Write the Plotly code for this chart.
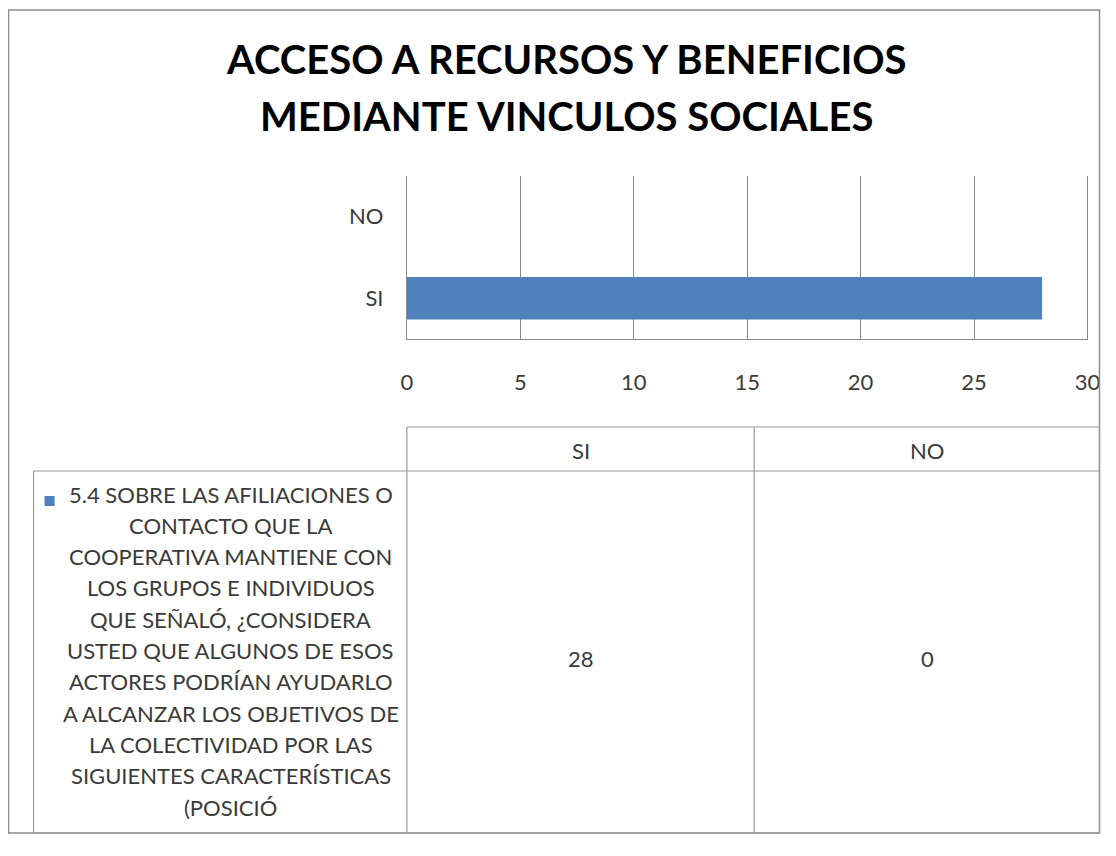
import plotly.graph_objects as go

# page layout: 8px body margin; the capture comes out slightly narrower
# horizontally, so x positions are corrected with a small calibration
PAD = 8
W, H = 1108, 830
SX, OX = 0.982, 6.6

# data
categories = ["SI", "NO"]
values = [28, 0]
title_lines = ["ACCESO A RECURSOS Y BENEFICIOS", "MEDIANTE VINCULOS SOCIALES"]
series_lines = [
    "5.4 SOBRE LAS AFILIACIONES O",
    "CONTACTO QUE LA",
    "COOPERATIVA MANTIENE CON",
    "LOS GRUPOS E INDIVIDUOS",
    "QUE SEÑALÓ, ¿CONSIDERA",
    "USTED QUE ALGUNOS DE ESOS",
    "ACTORES PODRÍAN AYUDARLO",
    "A ALCANZAR LOS OBJETIVOS DE",
    "LA COLECTIVIDAD POR LAS",
    "SIGUIENTES CARACTERÍSTICAS",
    "(POSICIÓ",
]
x_ticks = [0, 5, 10, 15, 20, 25, 30]

BAR = "#4f81bd"
GRID = "#8c8c8c"
LINE = "#9a9a9a"
TXT = "#3a3a3a"
FONT = "Lato"


# screen pixel -> paper coords
def px(x):
    return ((x - OX) / SX - PAD) / W


def py(y):
    return 1 - (y - PAD) / H


fig = go.Figure()
fig.add_trace(go.Bar(
    y=categories, x=values, orientation="h",
    marker=dict(color=BAR, line=dict(width=0)),
    name=" ".join(series_lines), showlegend=False,
))

fig.update_layout(
    width=W, height=H, autosize=False,
    margin=dict(l=0, r=0, t=0, b=0),
    paper_bgcolor="white", plot_bgcolor="white",
    bargap=0.48,
    font=dict(family=FONT, color=TXT),
    xaxis=dict(
        domain=[px(407), px(1087)], range=[0, 30],
        tickvals=x_ticks, showgrid=True, gridcolor=GRID, gridwidth=1,
        showline=True, linecolor=GRID, linewidth=1, zeroline=False,
        ticks="", ticklabelstandoff=24, tickfont=dict(size=22, color=TXT),
        fixedrange=True,
    ),
    yaxis=dict(
        domain=[py(339), py(176)],
        showgrid=False, showline=True, mirror=True, linecolor=GRID, linewidth=1,
        ticks="", ticklabelstandoff=18, tickfont=dict(size=22, color=TXT),
        fixedrange=True,
    ),
)

shapes = []
# outer frame
shapes.append(dict(type="rect", xref="paper", yref="paper",
                   x0=px(9), x1=px(1099), y0=py(833), y1=py(10),
                   line=dict(color=GRID, width=1.5)))


def hline(y, x0, x1):
    shapes.append(dict(type="line", xref="paper", yref="paper",
                       x0=px(x0), x1=px(x1), y0=py(y), y1=py(y),
                       line=dict(color=LINE, width=1.2)))


def vline(x, y0, y1):
    shapes.append(dict(type="line", xref="paper", yref="paper",
                       x0=px(x), x1=px(x), y0=py(y0), y1=py(y1),
                       line=dict(color=LINE, width=1.2)))


# data table grid
hline(427, 407, 1099)
hline(471, 34, 1099)
hline(833, 34, 1099)
vline(34, 471, 833)
vline(407, 427, 833)
vline(754, 427, 833)
vline(1099, 427, 833)

# legend key
shapes.append(dict(type="rect", xref="paper", yref="paper",
                   x0=px(45), x1=px(55), y0=py(506), y1=py(496),
                   fillcolor=BAR, line=dict(width=0)))

annotations = []
for i, t in enumerate(title_lines):
    annotations.append(dict(
        text="<b>%s</b>" % t, xref="paper", yref="paper",
        x=px(566), y=py(59 + i * 57), xanchor="center", yanchor="middle",
        showarrow=False, font=dict(family=FONT, size=40, color="black"),
    ))

col_x = [581, 927]
for c, v, cx in zip(categories, values, col_x):
    annotations.append(dict(
        text=c, xref="paper", yref="paper", x=px(cx), y=py(450),
        xanchor="center", yanchor="middle", showarrow=False,
        font=dict(size=22, color=TXT),
    ))
    annotations.append(dict(
        text=str(v), xref="paper", yref="paper", x=px(cx), y=py(658),
        xanchor="center", yanchor="middle", showarrow=False,
        font=dict(size=22, color=TXT),
    ))

for i, line in enumerate(series_lines):
    annotations.append(dict(
        text=line, xref="paper", yref="paper", x=px(231), y=py(494 + i * 31.3),
        xanchor="center", yanchor="middle", showarrow=False,
        font=dict(size=22, color=TXT),
    ))

fig.update_layout(shapes=shapes, annotations=annotations)

fig.write_html("out.html", config={"responsive": False})
